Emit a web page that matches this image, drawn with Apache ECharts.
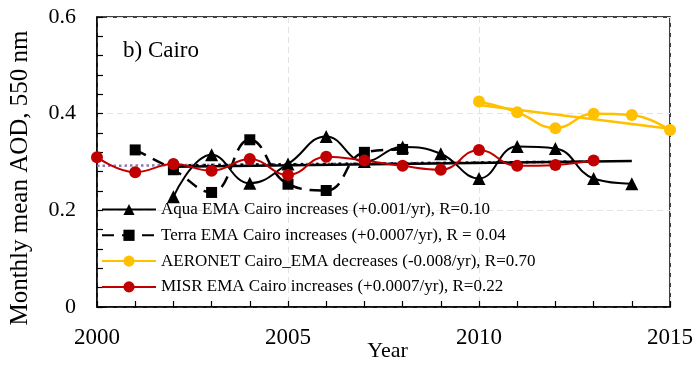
<!DOCTYPE html>
<html>
<head>
<meta charset="utf-8">
<script src="https://cdn.jsdelivr.net/npm/echarts@6/dist/echarts.min.js"></script>
<style>html,body{margin:0;padding:0;background:#fff}#c{width:697px;height:365px}</style>
</head>
<body>
<div id="c"></div>
<script>
// ---- data ----
const aquaYears = [2002, 2003, 2004, 2005, 2006, 2007, 2008, 2009, 2010, 2011, 2012, 2013, 2014];
const aquaValues = [0.228, 0.315, 0.256, 0.296, 0.353, 0.301, 0.331, 0.317, 0.266, 0.332, 0.328, 0.266, 0.255];
const terraYears = [2001, 2002, 2003, 2004, 2005, 2006, 2007, 2008];
const terraValues = [0.325, 0.284, 0.237, 0.346, 0.254, 0.241, 0.320, 0.326];
const aeronetYears = [2010, 2011, 2012, 2013, 2014, 2015];
const aeronetValues = [0.425, 0.403, 0.370, 0.400, 0.397, 0.366];
const misrYears = [2000, 2001, 2002, 2003, 2004, 2005, 2006, 2007, 2008, 2009, 2010, 2011, 2012, 2013];
const misrValues = [0.310, 0.279, 0.296, 0.282, 0.306, 0.273, 0.311, 0.303, 0.292, 0.284, 0.325, 0.292, 0.294, 0.303];
// linear trend end points
const aquaTrendYears = [2002, 2014];
const aquaTrendValues = [0.290, 0.302];
const terraTrendYears = [2002, 2013];
const terraTrendValues = [0.293, 0.301];
const misrTrendYears = [2000, 2013];
const misrTrendValues = [0.292, 0.301];
const aeronetTrendYears = [2010, 2015];
const aeronetTrendValues = [0.418, 0.369];
const seriesNames = [
  'Aqua EMA Cairo increases (+0.001/yr), R=0.10',
  'Terra EMA Cairo increases (+0.0007/yr), R = 0.04',
  'AERONET Cairo_EMA decreases (-0.008/yr), R=0.70',
  'MISR EMA Cairo increases (+0.0007/yr), R=0.22'
];
const xTicks = [2000, 2005, 2010, 2015];
const yTicks = [0, 0.2, 0.4, 0.6];
const panelTitle = 'b) Cairo';
const xTitle = 'Year';
const yTitle = 'Monthly mean AOD, 550 nm';

const pairs = (xs, ys) => xs.map((x, i) => [x, ys[i]]);
const FONT = '"Liberation Serif", "Times New Roman", serif';

const chart = echarts.init(document.getElementById('c'), null, {renderer: 'canvas'});
const trend = (xs, ys, color, type, width) => ({
  type: 'line', data: pairs(xs, ys), showSymbol: false, symbol: 'none', silent: true,
  lineStyle: {color: color, width: width, type: type}, z: 2, animation: false
});
chart.setOption({
  animation: false,
  backgroundColor: '#fff',
  title: {
    text: panelTitle, left: 118, top: 34,
    textStyle: {fontFamily: FONT, fontSize: 23, fontWeight: 'normal', color: '#000'}
  },
  legend: {
    data: seriesNames, orient: 'vertical', left: 96, top: 196,
    itemWidth: 54, itemHeight: 14, itemGap: 8.8,
    textStyle: {fontFamily: FONT, fontSize: 17, color: '#000'},
    selectedMode: false
  },
  grid: {left: 97, right: 27, top: 17, bottom: 58, containLabel: false, outerBoundsMode: 'none',
    show: true, borderColor: '#000', borderWidth: 1.5, backgroundColor: 'transparent'},
  xAxis: {
    type: 'value', min: xTicks[0], max: xTicks[xTicks.length - 1], interval: 5,
    name: xTitle, nameLocation: 'middle', nameGap: 33, nameMoveOverlap: false,
    nameTextStyle: {fontFamily: FONT, fontSize: 22, color: '#000', padding: [0, 0, 0, 8]},
    axisLine: {show: true, lineStyle: {color: '#000', width: 1.5}},
    axisTick: {show: true, inside: true, length: 6, lineStyle: {color: '#000', width: 1.2}},
    minorTick: {show: true, splitNumber: 5, length: 6, lineStyle: {color: '#000', width: 1.2}},
    axisLabel: {margin: 19, fontFamily: FONT, fontSize: 23, color: '#000',
      formatter: v => xTicks.includes(v) ? String(v) : ''},
    splitLine: {show: true, lineStyle: {color: '#e3e3e3', type: [6, 4], width: 1}}
  },
  yAxis: {
    type: 'value', min: yTicks[0], max: yTicks[yTicks.length - 1], interval: 0.2,
    name: yTitle, nameLocation: 'middle', nameGap: 64,
    nameTextStyle: {fontFamily: FONT, fontSize: 25, color: '#000', padding: [0, 32, 0, 0]},
    axisLine: {show: true, lineStyle: {color: '#000', width: 1.5}},
    axisTick: {show: true, inside: true, length: 6, lineStyle: {color: '#000', width: 1.2}},
    minorTick: {show: true, splitNumber: 5, length: 6, lineStyle: {color: '#000', width: 1.2}},
    axisLabel: {margin: 21, fontFamily: FONT, fontSize: 22, color: '#000',
      formatter: v => (Math.abs(v) < 1e-9 ? '0' : String(Math.round(v * 10) / 10))},
    splitLine: {show: true, lineStyle: {color: '#e3e3e3', type: [6, 4], width: 1}}
  },
  series: [
    trend(misrTrendYears, misrTrendValues, '#8a78b8', [2.5, 3], 2.5),
    trend(aeronetTrendYears, aeronetTrendValues, '#FFC000', 'solid', 2.5),
    trend(aquaTrendYears, aquaTrendValues, '#000', 'solid', 2.5),
    trend(terraTrendYears, terraTrendValues, '#000', [2.5, 5], 2.5),
    {
      name: seriesNames[0], type: 'line', data: pairs(aquaYears, aquaValues), smooth: 0.45,
      symbol: 'triangle', symbolSize: 13, itemStyle: {color: '#000'},
      lineStyle: {color: '#000', width: 2}, z: 3
    },
    {
      name: seriesNames[1], type: 'line', data: pairs(terraYears, terraValues), smooth: 0.45,
      symbol: 'rect', symbolSize: 11, itemStyle: {color: '#000'},
      lineStyle: {color: '#000', width: 2.5, type: [12, 8]}, z: 3
    },
    {
      name: seriesNames[2], type: 'line', data: pairs(aeronetYears, aeronetValues), smooth: 0.45,
      symbol: 'circle', symbolSize: 12, itemStyle: {color: '#FFC000'},
      lineStyle: {color: '#FFC000', width: 2.5}, z: 3
    },
    {
      name: seriesNames[3], type: 'line', data: pairs(misrYears, misrValues), smooth: 0.45,
      symbol: 'circle', symbolSize: 12, itemStyle: {color: '#C00000'},
      lineStyle: {color: '#C00000', width: 2}, z: 4
    }
  ]
});
</script>
</body>
</html>
